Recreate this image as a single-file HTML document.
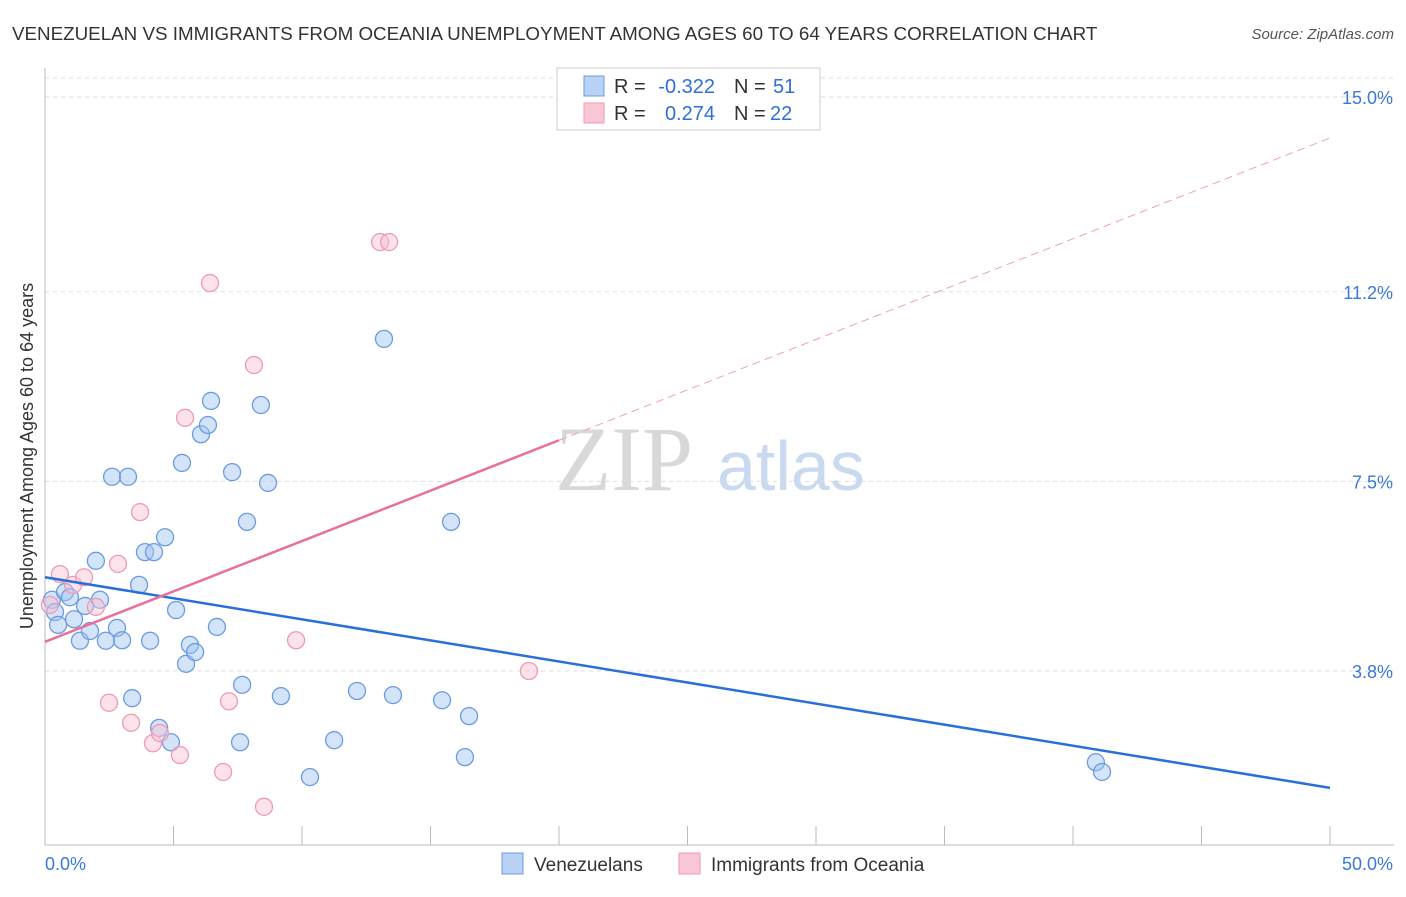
<!DOCTYPE html>
<html><head><meta charset="utf-8"><style>
body{margin:0;background:#fff;font-family:"Liberation Sans",sans-serif;}
</style></head><body>
<svg id="chart" width="1406" height="892" xmlns="http://www.w3.org/2000/svg" font-family="Liberation Sans, sans-serif">
<text x="12" y="40" font-size="18.8" fill="#333">VENEZUELAN VS IMMIGRANTS FROM OCEANIA UNEMPLOYMENT AMONG AGES 60 TO 64 YEARS CORRELATION CHART</text>
<text x="1394" y="39" font-size="15" fill="#555" text-anchor="end" font-style="italic">Source: ZipAtlas.com</text>
<g>
<text x="555" y="490" font-size="92" fill="#d8d8d8" font-family="Liberation Serif, serif">ZIP</text>
<text x="717" y="490" font-size="70" fill="#c9d9f0">atlas</text>
</g>
<text transform="translate(33,456) rotate(-90)" font-size="18" fill="#333" text-anchor="middle">Unemployment Among Ages 60 to 64 years</text>
<g id="grid"></g><g id="axes"></g><g id="marks"></g>
<g>
<rect x="557" y="68" width="263" height="62" fill="#fff" stroke="#ccc"/>
<rect x="584" y="76" width="20" height="20" fill="#b8d1f5" stroke="#6a9be0"/>
<rect x="584" y="103" width="20" height="20" fill="#f9c6d6" stroke="#ef9ab4"/>
<text x="614" y="93" font-size="20" fill="#333">R =</text>
<text x="715" y="93" font-size="20" fill="#2e6fd9" text-anchor="end">-0.322</text>
<text x="734" y="93" font-size="20" fill="#333">N =</text>
<text x="773" y="93" font-size="20" fill="#2e6fd9">51</text>
<text x="614" y="120" font-size="20" fill="#333">R =</text>
<text x="715" y="120" font-size="20" fill="#2e6fd9" text-anchor="end">0.274</text>
<text x="734" y="120" font-size="20" fill="#333">N =</text>
<text x="770" y="120" font-size="20" fill="#2e6fd9">22</text>
</g>
<g>
<rect x="502" y="853" width="21" height="21" fill="#b8d1f5" stroke="#6a9be0"/>
<text x="534" y="871" font-size="19" fill="#333">Venezuelans</text>
<rect x="679" y="853" width="21" height="21" fill="#f9c6d6" stroke="#ef9ab4"/>
<text x="711" y="871" font-size="19" fill="#333">Immigrants from Oceania</text>
</g>
</svg>
<script>
const yTicks=[15.0,11.2,7.5,3.8];
const yTickLabels=["15.0%","11.2%","7.5%","3.8%"];
const xTickLabels=["0.0%","50.0%"];
const blueX=[0.27,0.39,0.51,0.78,0.97,1.13,1.36,1.56,1.75,1.98,2.14,2.37,2.61,2.80,3.00,3.23,3.39,3.66,3.89,4.09,4.24,4.44,4.67,4.90,5.10,5.33,5.49,5.64,5.84,6.07,6.34,6.46,6.69,7.28,7.59,7.67,7.86,8.40,8.68,9.18,10.31,11.25,12.14,13.19,13.54,15.45,15.80,16.34,16.50,40.89,41.13];
const blueY=[5.19,4.95,4.70,5.34,5.24,4.81,4.39,5.07,4.58,5.95,5.19,4.39,7.59,4.64,4.40,7.59,3.27,5.48,6.12,4.39,6.12,2.69,6.41,2.41,4.99,7.86,3.94,4.31,4.17,8.42,8.60,9.07,4.66,7.68,2.41,3.53,6.71,8.99,7.47,3.31,1.73,2.45,3.41,10.28,3.33,3.23,6.71,2.12,2.92,2.02,1.83];
const pinkX=[0.19,0.58,1.09,1.52,1.98,2.49,2.84,3.35,3.70,4.20,4.47,5.25,5.45,6.42,6.93,7.16,8.13,8.52,9.77,13.04,13.39,18.83];
const pinkY=[5.09,5.69,5.48,5.63,5.05,3.18,5.89,2.79,6.90,2.39,2.59,2.16,8.74,11.37,1.83,3.21,9.77,1.15,4.40,12.17,12.17,3.80];
const blueTrend=[5.63,1.52];
const pinkTrend=[4.37,14.2];
const NS="http://www.w3.org/2000/svg";
const xs=v=>45+v/50*1285;
const ys=v=>97+(15-v)*51.25;
function mk(tag,attrs,parent){const e=document.createElementNS(NS,tag);for(const k in attrs)e.setAttribute(k,attrs[k]);document.getElementById(parent).appendChild(e);return e;}
yTicks.forEach((t,i)=>{
 const g=mk('line',{x1:45,x2:1394,y1:ys(t),y2:ys(t),stroke:'#ddd','stroke-dasharray':'4,4'},'grid');
 
 
 const l=mk('text',{x:1393,y:ys(t)+7,'font-size':18,fill:'#3b78d8','text-anchor':'end'},'axes');l.textContent=yTickLabels[i];
 
 
});
mk('line',{x1:45,x2:1394,y1:78,y2:78,stroke:'#ddd','stroke-dasharray':'4,4'},'grid');
const ax=mk('line',{x1:45,x2:45,y1:68,y2:845,stroke:'#bbb'},'axes');


const bx=mk('line',{x1:45,x2:1394,y1:845,y2:845,stroke:'#bbb'},'axes');


for(let i=0;i<=10;i++){const t=mk('line',{x1:xs(i*5),x2:xs(i*5),y1:826,y2:845,stroke:'#bbb'},'axes');
 
 }
[[0,45,'start'],[50,1393,'end']].forEach((a,i)=>{const l=mk('text',{x:a[1],y:870,'font-size':18,fill:'#3b78d8','text-anchor':a[2]},'axes');l.textContent=xTickLabels[i];
 
 });
blueX.forEach((x,i)=>{const c=mk('circle',{cx:xs(x),cy:ys(blueY[i]),r:8.5,fill:'rgba(160,195,240,0.45)',stroke:'#6a9be0','stroke-width':1.3},'marks');
 
 });
pinkX.forEach((x,i)=>{const c=mk('circle',{cx:xs(x),cy:ys(pinkY[i]),r:8.5,fill:'rgba(248,190,208,0.45)',stroke:'#ef9ab4','stroke-width':1.3},'marks');
 
 });
const bl=mk('line',{x1:xs(0),y1:ys(blueTrend[0]),x2:xs(50),y2:ys(blueTrend[1]),stroke:'#2a6fd6','stroke-width':2.5},'marks');


const pm=v=>pinkTrend[0]+(pinkTrend[1]-pinkTrend[0])*v/50;
const pl=mk('line',{x1:xs(0),y1:ys(pm(0)),x2:xs(20),y2:ys(pm(20)),stroke:'#e8709a','stroke-width':2.5},'marks');


const pd=mk('line',{x1:xs(20),y1:ys(pm(20)),x2:xs(50),y2:ys(pm(50)),stroke:'#eea0b8','stroke-width':1,'stroke-dasharray':'8,5'},'marks');


</script>
</body></html>
